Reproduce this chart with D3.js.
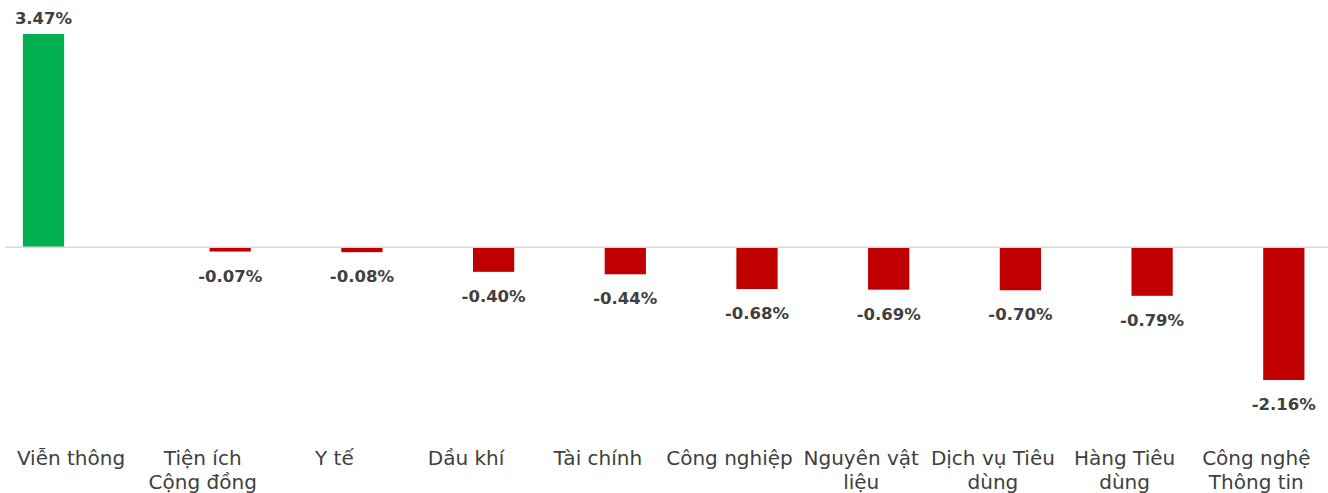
<!DOCTYPE html>
<html>
<head>
<meta charset="utf-8">
<script src="https://cdn.jsdelivr.net/npm/d3@7"></script>
<style>
  body { margin: 0; background: #fff; }
  text { font-family: "DejaVu Sans", sans-serif; }
</style>
</head>
<body>
<div id="chart"></div>
<script>
// chart data
var categories = ["Viễn thông", "Tiện ích\nCộng đồng", "Y tế", "Dầu khí", "Tài chính",
  "Công nghiệp", "Nguyên vật\nliệu", "Dịch vụ Tiêu\ndùng", "Hàng Tiêu\ndùng", "Công nghệ\nThông tin"];
var values = [3.47, -0.07, -0.08, -0.40, -0.44, -0.68, -0.69, -0.70, -0.79, -2.16];
var seriesKeys = ["up", "down"];

var svgWidth = 1328;
var svgHeight = 493;

// each value goes in the "up" or "down" series slot, like a clustered chart
var data = categories.map(function(c, i) {
  return { cat: c, val: values[i], key: values[i] >= 0 ? "up" : "down" };
});

var svg = d3.select("#chart")
  .append("svg")
  .attr("width", svgWidth)
  .attr("height", svgHeight);

// scales
var x = d3.scaleBand()
  .domain(categories)
  .range([5.15, 1322.15]);

var x1 = d3.scaleBand()
  .domain(seriesKeys)
  .range([(x.bandwidth() - 110) / 2, (x.bandwidth() + 110) / 2])
  .paddingInner(0.25)
  .paddingOuter(0.125);

var y = d3.scaleLinear()
  .domain([-2.16, 3.47])
  .range([380, 34]);

// bars
svg.selectAll("rect.bar")
  .data(data)
  .enter()
  .append("rect")
  .attr("class", "bar")
  .attr("x", d => x(d.cat) + x1(d.key))
  .attr("width", x1.bandwidth())
  .attr("y", d => y(Math.max(0, d.val)))
  .attr("height", d => Math.abs(y(d.val) - y(0)))
  .attr("fill", d => d.val >= 0 ? "#00b050" : "#c00000");

// zero line
svg.append("line")
  .attr("x1", 5)
  .attr("x2", svgWidth)
  .attr("y1", y(0))
  .attr("y2", y(0))
  .attr("stroke", "#d9d9d9")
  .attr("stroke-width", 1.5);

// value labels
svg.selectAll("text.val")
  .data(data)
  .enter()
  .append("text")
  .attr("class", "val")
  .attr("x", d => x(d.cat) + x1(d.key) + x1.bandwidth() / 2)
  .attr("y", d => d.val >= 0 ? y(d.val) - 10 : y(d.val) + 30)
  .attr("text-anchor", "middle")
  .attr("font-size", "16.5px")
  .attr("font-weight", "bold")
  .attr("fill", "#404040")
  .text(d => d.val.toFixed(2) + "%");

// category labels (bottom axis without line/ticks)
var xAxis = d3.axisBottom(x).tickSize(0).tickFormat("");
var axisG = svg.append("g")
  .attr("transform", "translate(0, 440)")
  .call(xAxis);
axisG.select(".domain").remove();

axisG.selectAll(".tick").each(function(d) {
  var t = d3.select(this).append("text")
    .attr("text-anchor", "middle")
    .attr("font-size", "20px")
    .attr("fill", "#404040");
  d.split("\n").forEach(function(line, i) {
    t.append("tspan")
      .attr("x", 0)
      .attr("y", 25 + i * 24)
      .text(line);
  });
});
</script>
</body>
</html>
